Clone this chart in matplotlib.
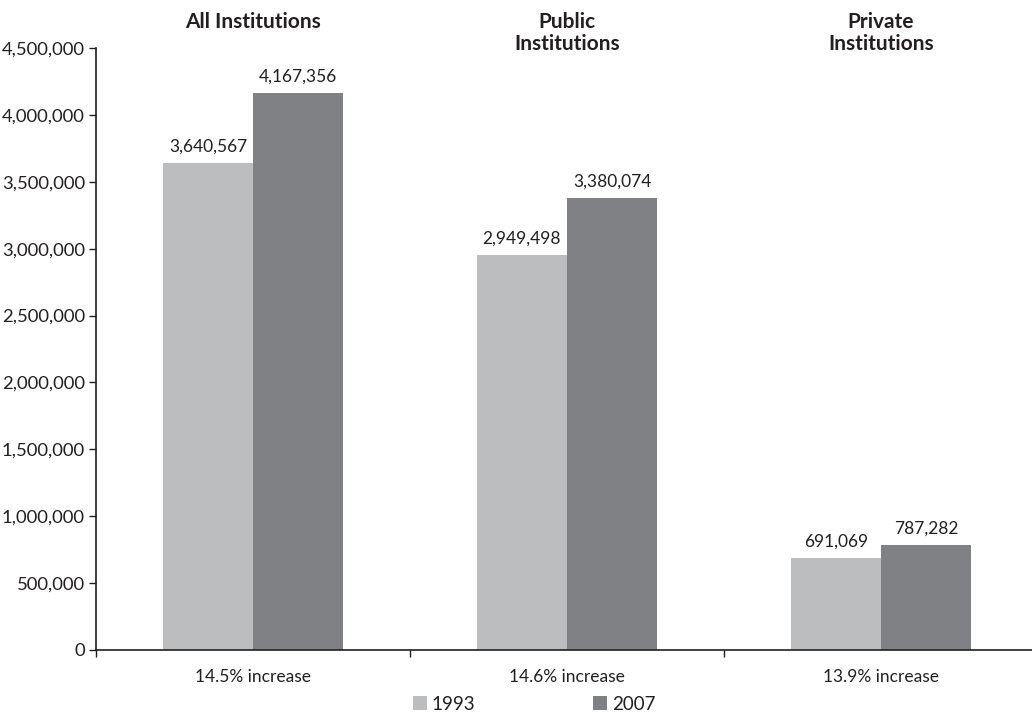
import numpy as np
import matplotlib.pyplot as plt
from matplotlib.ticker import FuncFormatter

plt.rcParams['font.family'] = ['Lato', 'DejaVu Sans']

# 数据
groups = ["All Institutions", "Public\nInstitutions", "Private\nInstitutions"]
increase_labels = ["14.5% increase", "14.6% increase", "13.9% increase"]
years = ["1993", "2007"]
values_1993 = [3640567, 2949498, 691069]
values_2007 = [4167356, 3380074, 787282]

colors = ["#bcbdbf", "#808184"]
text_color = "#231f20"

fig = plt.figure(figsize=(10.32, 7.13), dpi=100)
ax = fig.add_axes([96 / 1032, 1 - 650 / 713, 942 / 1032, 602 / 713])

x = np.arange(len(groups))
w = 0.287
b1 = ax.bar(x - w / 2, values_1993, w, color=colors[0], label=years[0])
b2 = ax.bar(x + w / 2, values_2007, w, color=colors[1], label=years[1])

for bars, vals in [(b1, values_1993), (b2, values_2007)]:
    for rect, v in zip(bars, vals):
        ax.annotate(f"{v:,}", (rect.get_x() + rect.get_width() / 2, v),
                    xytext=(0, 6), textcoords="offset points",
                    ha="center", va="bottom", fontsize=12.5, color=text_color)

# 组标题
for xi, g in zip(x, groups):
    ax.text(xi, 1.0 + 36 / 602, g, transform=ax.get_xaxis_transform(),
            ha="center", va="top", fontsize=15, fontweight="bold",
            color=text_color, linespacing=1.12)

ax.set_xlim(-0.5, 2.5)
ax.set_ylim(0, 4500000)
ax.set_yticks(np.arange(0, 4500001, 500000))
ax.yaxis.set_major_formatter(FuncFormatter(lambda v, p: f"{int(v):,}"))

ax.set_xticks(x)
ax.set_xticklabels(increase_labels)
ax.set_xticks([-0.5, 0.5, 1.5, 2.5], minor=True)
ax.tick_params(axis="x", which="major", length=0, pad=14, labelsize=12.5, colors=text_color)
ax.tick_params(axis="x", which="minor", length=5, direction="out", width=1, color=text_color)
ax.tick_params(axis="y", length=5, direction="out", width=1, labelsize=13.3, colors=text_color, pad=3)

for s in ["top", "right"]:
    ax.spines[s].set_visible(False)
for s in ["left", "bottom"]:
    ax.spines[s].set_color(text_color)
    ax.spines[s].set_linewidth(1.2)

fig.legend(loc="center", bbox_to_anchor=(534 / 1032, 1 - 704 / 713), ncol=2,
           frameon=False, handlelength=0.75, handleheight=0.75, handletextpad=0.25,
           columnspacing=6.3, fontsize=13.5, labelcolor=text_color)

fig.savefig("out.png", dpi=100)
